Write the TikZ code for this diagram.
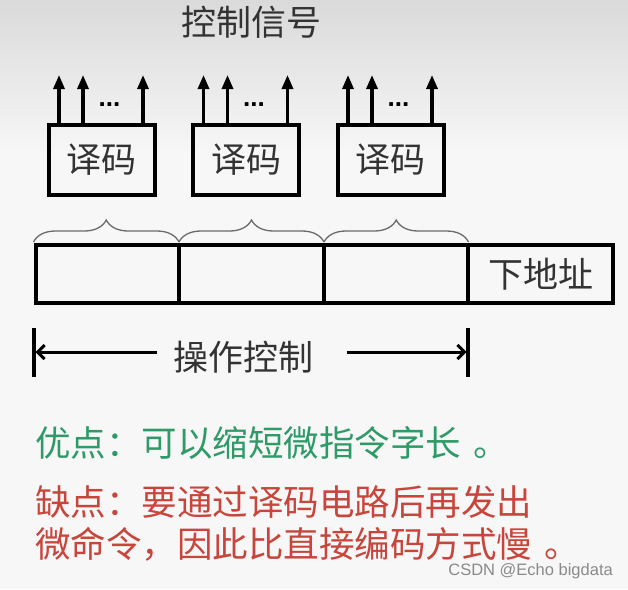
\documentclass[tikz,border=0pt]{standalone}
\usepackage{fontspec}
\newfontfamily\cjk{Noto Sans CJK SC}
\newfontfamily\lsans{Liberation Sans}
\usetikzlibrary{arrows.meta,calc,decorations.pathreplacing}
\definecolor{bgtop}{HTML}{DADADA}
\definecolor{bgbot}{HTML}{F6F6F6}
\definecolor{bgrest}{HTML}{F7F7F7}
\definecolor{goodgreen}{HTML}{2E9A68}
\definecolor{badred}{HTML}{C8453C}
\definecolor{bracegray}{HTML}{6A6A6A}
\definecolor{markgray}{HTML}{8A8A8A}
\tikzset{
  cjktext/.style={inner sep=0pt, font=\cjk\fontsize{35}{40}\selectfont, text=black!80},
  decbox/.style={draw=black, line width=4pt, minimum width=106pt, minimum height=70pt, inner sep=0pt, font=\cjk\fontsize{35}{40}\selectfont, text=black!80},
  cellbox/.style={draw=black, line width=4pt, minimum height=58pt, inner sep=0pt, font=\cjk\fontsize{35}{40}\selectfont, text=black!80},
  sigarrow/.style={line width=3.2pt, -{Triangle[length=14pt,width=11pt]}},
  dimarrow/.style={line width=3pt, -{Straight Barb[length=7pt,width=14pt]}},
  dimbar/.style={line width=3.2pt},
  fieldbrace/.style={draw=bracegray, line width=1.3pt, decorate, decoration={brace, amplitude=22pt}},
  dotstext/.style={inner sep=0pt, font=\lsans\bfseries\fontsize{26}{28}\selectfont},
  notetext/.style={inner sep=0pt, anchor=west, font=\cjk\fontsize{35.5}{40}\selectfont}
}
\begin{document}
\begin{tikzpicture}[x=1pt,y=-1pt]
\useasboundingbox (0,0) rectangle (628,589);
\shade[top color=bgtop, bottom color=bgbot] (0,0) rectangle (628,150);
\fill[bgrest] (0,150) rectangle (628,589);

% title
\node[cjktext] (title) at (251,22) {控制信号};

% decoders
\node[decbox] (d1) at (101.5,160) {译码};
\node[decbox] (d2) at (246,160) {译码};
\node[decbox] (d3) at (390.5,160) {译码};

% signal arrows
\foreach \b in {d1,d2,d3}{
  \coordinate (\b a) at ($(\b.north west)+(12.5,0)$);
  \coordinate (\b b) at ($(\b.north west)+(36.5,0)$);
  \coordinate (\b c) at ($(\b.north west)+(96.5,0)$);
  \coordinate (\b ta) at ($(\b a)+(0,-48)$);
  \coordinate (\b tb) at ($(\b b)+(0,-48)$);
  \coordinate (\b tc) at ($(\b c)+(0,-48)$);
  \draw[sigarrow] (\b a) -- (\b ta);
  \draw[sigarrow] (\b b) -- (\b tb);
  \draw[sigarrow] (\b c) -- (\b tc);
  \node[dotstext, anchor=base] (\b dots) at ($(\b.north west)+(63,-17)$) {...};
}

% register
\node[cellbox, minimum width=143pt] (c1) at (107.5,274) {};
\node[cellbox, minimum width=145pt] (c2) at (251.5,274) {};
\node[cellbox, minimum width=144pt] (c3) at (396,274) {};
\node[cellbox, minimum width=145pt] (c4) at (540.5,274) {下地址};

% braces
\coordinate (b0) at (33.5,242);
\coordinate (b1) at (179,242);
\coordinate (b2) at (324,242);
\coordinate (b3) at (468.5,242);
\draw[fieldbrace] (b0) -- (b1);
\draw[fieldbrace] (b1) -- (b2);
\draw[fieldbrace] (b2) -- (b3);

% dimension line
\coordinate (lt) at (34,328);
\coordinate (lb) at (34,377);
\coordinate (rt) at (468,328);
\coordinate (rb) at (468,377);
\draw[dimbar] (lt) -- (lb);
\draw[dimbar] (rt) -- (rb);
\node[cjktext] (op) at (243,357) {操作控制};
\coordinate (la) at (157,352);
\coordinate (lend) at (35.5,352);
\coordinate (ra) at (347,352);
\coordinate (rend) at (466.5,352);
\draw[dimarrow] (la) -- (lend);
\draw[dimarrow] (ra) -- (rend);

% notes
\node[notetext, text=goodgreen] (good) at (35,443) {优点：可以缩短微指令字长\hspace{12pt}。};
\node[notetext, text=badred] (bad1) at (35,502) {缺点：要通过译码电路后再发出};
\node[notetext, text=badred] (bad2) at (35,544) {微命令，因此比直接编码方式慢\hspace{12pt}。};

% watermark
\node[inner sep=0pt, anchor=east, text=markgray, font=\lsans\fontsize{16.5}{18}\selectfont] (wm) at (613,571) {CSDN @Echo bigdata};
\end{tikzpicture}
\end{document}
